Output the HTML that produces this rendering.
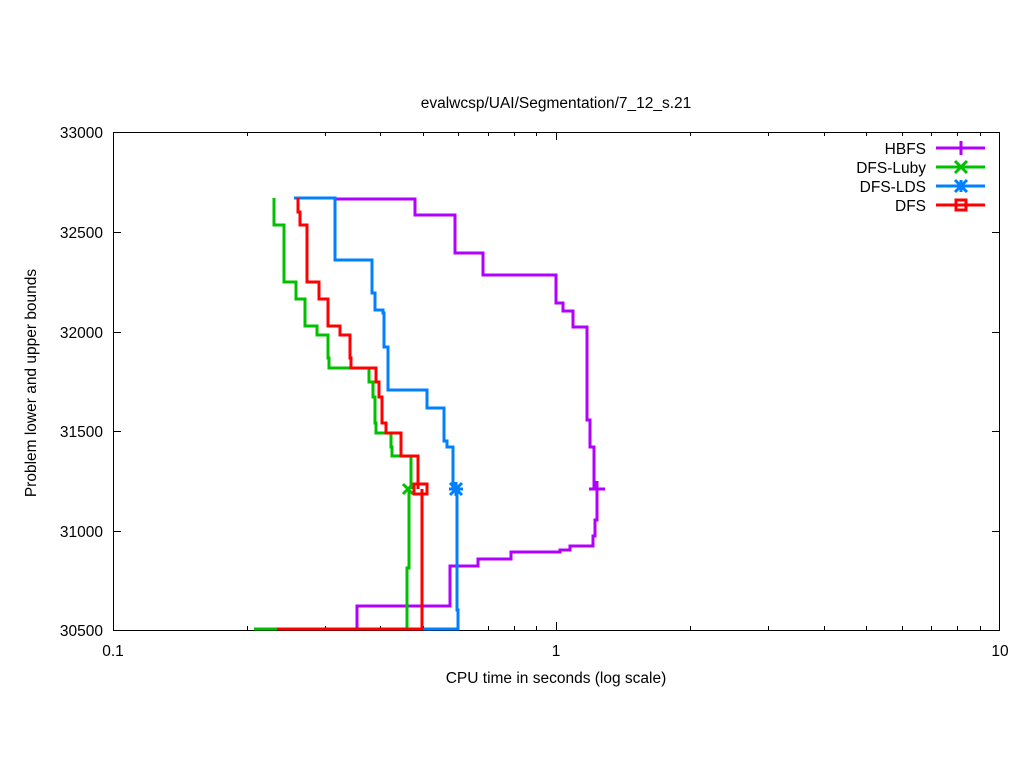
<!DOCTYPE html>
<html><head><style>body{margin:0;background:#fff}svg{display:block}</style></head><body>
<svg width="1024" height="768" xmlns="http://www.w3.org/2000/svg" font-family="Liberation Sans, sans-serif" font-size="15.5">
<rect width="1024" height="768" fill="#fff"/>
<text x="556" y="108" text-anchor="middle">evalwcsp/UAI/Segmentation/7_12_s.21</text>
<g stroke="#000" stroke-width="1" fill="none">
<rect x="113.5" y="132.5" width="886" height="498"/>
<path d="M113 232.5h8M1000 232.5h-8M113 332.5h8M1000 332.5h-8M113 431.5h8M1000 431.5h-8M113 531.5h8M1000 531.5h-8"/>
<path d="M556.5 630v-8M556.5 132v8"/>
</g>
<g stroke="#000" stroke-width="1" id="minor"></g>
<g text-anchor="end">
<text x="103" y="138">33000</text><text x="103" y="238">32500</text><text x="103" y="338">32000</text>
<text x="103" y="437">31500</text><text x="103" y="537">31000</text><text x="103" y="636">30500</text>
</g>
<g text-anchor="middle">
<text x="113" y="656">0.1</text><text x="556" y="656">1</text><text x="1000" y="656">10</text>
<text x="556" y="683">CPU time in seconds (log scale)</text>
<text transform="translate(36,383) rotate(-90)">Problem lower and upper bounds</text>
</g>
<g text-anchor="end">
<text x="926" y="154">HBFS</text><text x="926" y="173">DFS-Luby</text><text x="926" y="192">DFS-LDS</text><text x="926" y="211">DFS</text>
</g>
<g fill="none" stroke-width="3">
<path stroke="#b000ff" d="M336 199H415V215H455V253H483V275H556V303H563V311H573V327H587V420H590V447H594V489M278 629H357V606H450V566H478V559H511V552H560V550H570V546H593V536H595V520H597V489"/>
<path stroke="#b000ff" d="M936 148H985M961 141V155M597 481V497M589 489H605"/>
<path stroke="#0080ff" d="M294 198H335V260H372V293H375V310H383V313H384V347H388V390H427V408H444V441H447V447H453V489M423 629H458V610H457V489"/>
<path stroke="#0080ff" d="M936 186H985M961 180V192M955 180L967 192M955 192L967 180M449 489H463M456 482V496M450 483L462 495M450 495L462 483"/>
<path stroke="#00c000" d="M274 198V225H284V282H296V299H305V326H317V335H328V358H329V368H369V382H373V397H375V423H376V433H391V447H392V456H411V489M254 629H407V568H409V489"/>
<path stroke="#00c000" d="M936 167H985M955 161L967 173M955 173L967 161M403 484L413 494M403 494L413 484"/>
<path stroke="#ff0000" d="M298 198V212H300V225H307V282H319V299H328V326H340V335H350V358H351V368H376V382H379V397H382V423H386V433H401V456H418V489M277 629H422V489"/>
<path stroke="#ff0000" d="M936 205H985M956 200H966V210H956Z M414 484H427V494H414Z"/>
</g>
<script>
var g=document.getElementById('minor'),s='';
for(var d=0;d<2;d++)for(var k=2;k<=9;k++){var x=113+443.5*(d+Math.log10(k));x=Math.round(x)+0.5;s+='M'+x+' 630v-4M'+x+' 132v4';}
var p=document.createElementNS('http://www.w3.org/2000/svg','path');p.setAttribute('d',s);p.setAttribute('stroke','#000');g.appendChild(p);
</script>
</svg>
</body></html>
